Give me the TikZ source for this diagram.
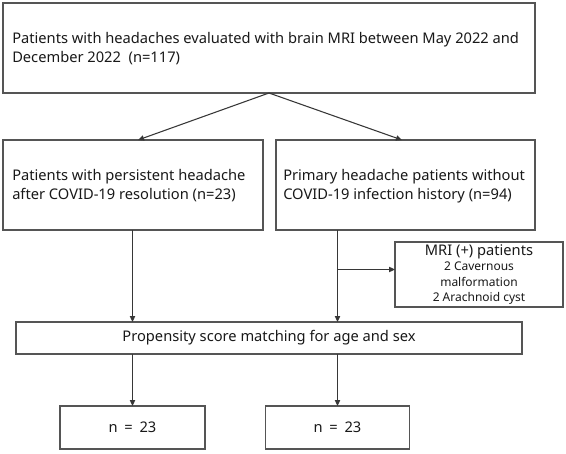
\documentclass[tikz,border=0pt]{standalone}
\usepackage{fontspec}
\setmainfont{Noto Sans}
\usetikzlibrary{arrows.meta}
\definecolor{linec}{RGB}{55,55,55}
\definecolor{boxc}{RGB}{85,85,85}
\definecolor{textc}{RGB}{25,25,25}
\begin{document}
\begin{tikzpicture}[x=0.75pt,y=-0.75pt,
  box/.style={draw=boxc,line width=0.8pt,inner sep=0pt,outer sep=0pt,text=textc,font=\fontsize{11}{14.25}\selectfont},
  txt/.style={inner sep=0pt,anchor=west,align=left,text=textc,font=\fontsize{11}{14.25}\selectfont},
  conn/.style={draw=linec,line width=0.8pt},
  arr/.style={conn,-{Triangle[length=4.5pt,width=4pt]}}]
\fill[white] (0,0) rectangle (566,453);
\useasboundingbox (0,0) rectangle (566,453);

\node[box,minimum width=399pt,minimum height=67.5pt] (top) at (269,48) {};
\node[txt] (toptext) at (12,48.5) {Patients with headaches evaluated with brain MRI between May 2022 and\\December 2022~ (n=117)};

\node[box,minimum width=195pt,minimum height=67.5pt] (left) at (133,185) {};
\node[txt] (lefttext) at (12,186) {Patients with persistent headache\\after COVID-19 resolution (n=23)};
\node[box,minimum width=194.25pt,minimum height=67.5pt] (right) at (405.5,185) {};
\node[txt] (righttext) at (283,186) {Primary headache patients without\\COVID-19 infection history (n=94)};

\node[box,align=center,font=\fontsize{9}{11.6}\selectfont,minimum width=126pt,minimum height=48.75pt] (mri) at (479,274.5)
  {{\fontsize{11}{12}\selectfont MRI (+) patients}\\2 Cavernous\\malformation\\2 Arachnoid cyst};

\node[box,minimum width=379.5pt,minimum height=24pt] (prop) at (269,338) {Propensity score matching for age and sex};

\node[box,minimum width=108.75pt,minimum height=32.25pt] (n1) at (132.5,427.5) {n\hspace{0.2em} = \hspace{0.2em}23};
\node[box,minimum width=108pt,minimum height=32.25pt] (n2) at (337.5,427.5) {n\hspace{0.2em} = \hspace{0.2em}23};

\coordinate (lt) at (138,140);
\coordinate (rt) at (402,140);
\draw[arr] (top.south) -- (lt);
\draw[arr] (top.south) -- (rt);

\coordinate (ls) at (132.5,230);
\coordinate (rs) at (337.5,230);
\draw[arr] (ls) -- (ls |- prop.north);
\draw[arr] (rs) -- (rs |- prop.north);

\coordinate (mrij) at (337.5,269.5);
\draw[arr] (mrij) -- (mrij -| mri.west);

\draw[arr] (n1.north |- prop.south) -- (n1.north);
\draw[arr] (n2.north |- prop.south) -- (n2.north);
\end{tikzpicture}
\end{document}
